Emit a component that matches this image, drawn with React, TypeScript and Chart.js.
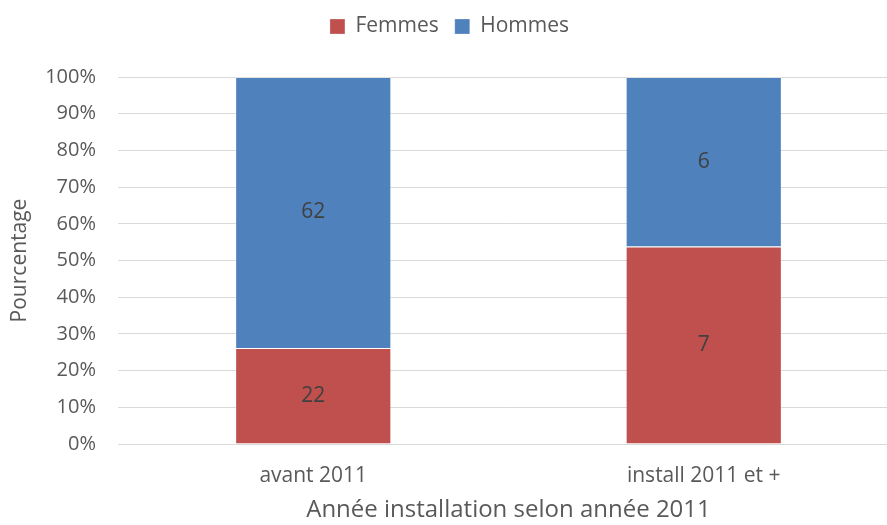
import React, { useEffect, useRef } from "react";
import { Chart, registerables } from "chart.js";

Chart.register(...registerables);

const categories = ["avant 2011", "install 2011 et +"];
const femmesCounts = [22, 7];
const hommesCounts = [62, 6];
const yTickLabels = ["0%", "10%", "20%", "30%", "40%", "50%", "60%", "70%", "80%", "90%", "100%"];

const FONT = "'Open Sans', 'Liberation Sans', sans-serif";
const TEXT = "#595959";

const totals = femmesCounts.map((f, i) => f + hommesCounts[i]);
const femmesPct = femmesCounts.map((f, i) => (f / totals[i]) * 100);
const hommesPct = hommesCounts.map((h, i) => (h / totals[i]) * 100);

const countLabels = [femmesCounts, hommesCounts];

const labelPlugin = {
  id: "countLabels",
  afterDatasetsDraw(chart: any) {
    const ctx = chart.ctx;
    ctx.save();
    ctx.font = `21px ${FONT}`;
    ctx.fillStyle = "#404040";
    ctx.textAlign = "center";
    ctx.textBaseline = "middle";
    chart.data.datasets.forEach((_ds: any, di: number) => {
      const meta = chart.getDatasetMeta(di);
      meta.data.forEach((bar: any, i: number) => {
        const yc = (bar.y + bar.base) / 2;
        ctx.fillText(String(countLabels[di][i]), bar.x, yc);
      });
    });
    ctx.restore();
  },
};

const legendHeightPlugin = {
  id: "legendHeight",
  beforeLayout(chart: any) {
    const lg = chart.legend;
    if (lg && !lg._patched) {
      const orig = lg.fit;
      lg.fit = function () {
        orig.call(this);
        this.height = 77;
      };
      lg._patched = true;
    }
  },
};

export default function App() {
  const ref = useRef<HTMLCanvasElement>(null);
  useEffect(() => {
    if (!ref.current) return;
    const chart = new Chart(ref.current, {
      type: "bar",
      data: {
        labels: categories,
        datasets: [
          {
            label: "Femmes",
            data: femmesPct,
            backgroundColor: "#C0504D",
            borderColor: "rgba(255,255,255,0.25)",
            borderWidth: 1,
            barPercentage: 0.4,
            categoryPercentage: 1,
          },
          {
            label: "Hommes",
            data: hommesPct,
            backgroundColor: "#4F81BD",
            borderColor: "rgba(255,255,255,0.25)",
            borderWidth: 1,
            barPercentage: 0.4,
            categoryPercentage: 1,
          },
        ],
      },
      options: {
        animation: false,
        responsive: false,
        maintainAspectRatio: false,
        layout: { padding: 0 },
        plugins: {
          legend: {
            position: "top",
            labels: {
              font: { family: FONT, size: 21 },
              color: TEXT,
              boxWidth: 15,
              boxHeight: 15,
              padding: 16,
            },
          },
          tooltip: { enabled: false },
        },
        scales: {
          x: {
            stacked: true,
            grid: { display: false, drawTicks: false },
            border: { display: true, color: "#D9D9D9", width: 1 },
            ticks: { font: { family: FONT, size: 21 }, color: TEXT, padding: 19 },
            title: {
              display: true,
              text: "Année installation selon année 2011",
              font: { family: FONT, size: 24 },
              color: TEXT,
              padding: { top: -4, bottom: 0 },
            },
            afterFit: (s: any) => { s.height = 81; },
          },
          y: {
            stacked: true,
            min: 0,
            max: 100,
            grid: { color: "#D9D9D9", lineWidth: 1, drawTicks: false },
            border: { display: false },
            ticks: {
              stepSize: 10,
              font: { family: FONT, size: 20 },
              color: TEXT,
              padding: 22,
              callback: (v: any) => yTickLabels[Math.round(Number(v) / 10)],
            },
            title: {
              display: true,
              text: "Pourcentage",
              font: { family: FONT, size: 21 },
              color: TEXT,
              padding: { top: 7, bottom: 0 },
            },
            afterFit: (s: any) => { s.width = 118; },
          },
        },
      },
      plugins: [labelPlugin, legendHeightPlugin],
    });
    return () => chart.destroy();
  }, []);
  return (
    <div style={{ position: "fixed", left: 0, top: 0, width: 887, height: 525, overflow: "hidden", background: "#fff" }}>
      <canvas ref={ref} width={899} height={525} style={{ width: 899, height: 525, display: "block" }} />
    </div>
  );
}
